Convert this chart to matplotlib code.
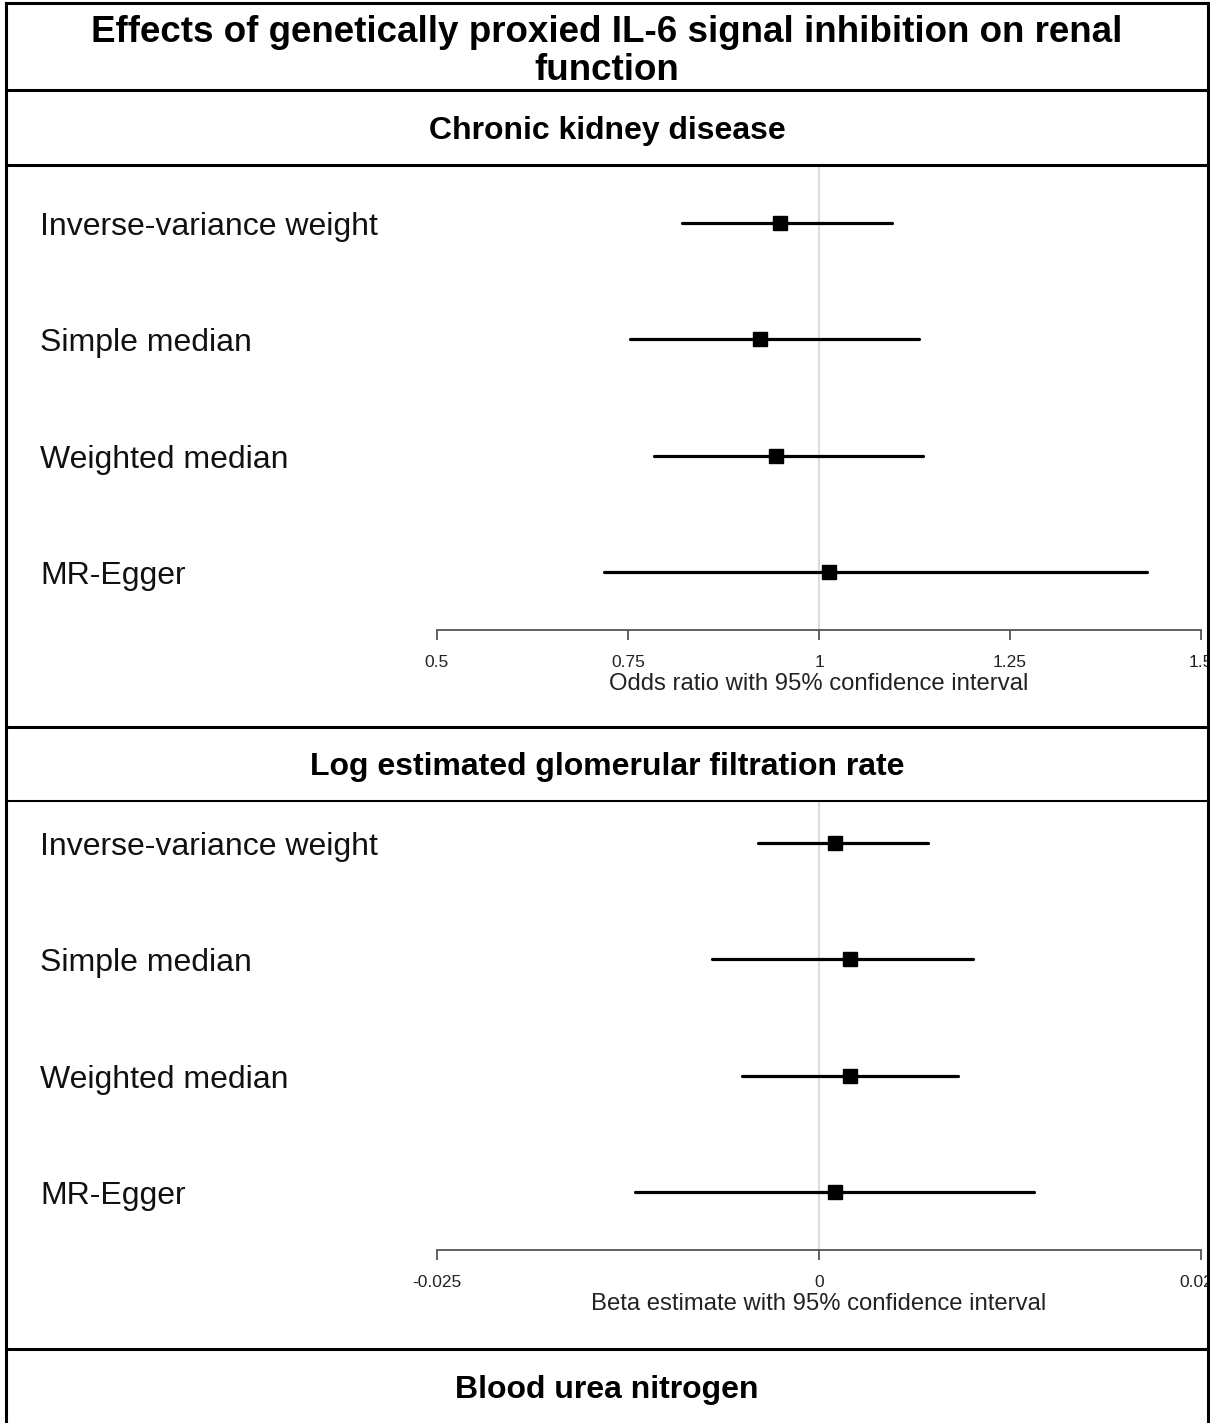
import matplotlib
matplotlib.use("Agg")
import matplotlib.pyplot as plt
from matplotlib.lines import Line2D
from matplotlib.transforms import blended_transform_factory, ScaledTranslation

plt.rcParams['font.family'] = ['Liberation Sans', 'DejaVu Sans']

W, H = 1210, 1423

methods = ["Inverse-variance weight", "Simple median", "Weighted median", "MR-Egger"]

# Chronic kidney disease (odds ratios)
ckd_est = [0.949, 0.923, 0.944, 1.013]
ckd_lo = [0.821, 0.753, 0.784, 0.719]
ckd_hi = [1.096, 1.131, 1.136, 1.429]
ckd_ticks = [0.5, 0.75, 1, 1.25, 1.5]
ckd_ticklabels = ["0.5", "0.75", "1", "1.25", "1.5"]

# Log eGFR (beta estimates)
egfr_est = [0.00105, 0.00203, 0.00203, 0.00105]
egfr_lo = [-0.00401, -0.00700, -0.00502, -0.01201]
egfr_hi = [0.00712, 0.01007, 0.00910, 0.01407]
egfr_ticks = [-0.025, 0, 0.025]
egfr_ticklabels = ["-0.025", "0", "0.025"]


def fx(x):
    return x / W


def fy(y):
    return 1 - y / H


fig = plt.figure(figsize=(W / 100, H / 100), dpi=100)


def hline(y, lw=2.2, x0=6, x1=1208):
    fig.add_artist(Line2D([fx(x0), fx(x1)], [fy(y), fy(y)], color='black',
                          lw=lw, transform=fig.transFigure))


def vline(x, y0, y1, lw=2.2):
    fig.add_artist(Line2D([fx(x), fx(x)], [fy(y0), fy(y1)], color='black',
                          lw=lw, transform=fig.transFigure))


# frame of the table
hline(3)
hline(90)
hline(165)
hline(727)
hline(801, lw=1.5)
hline(1349)
vline(6, 3, 1423)
vline(1208, 3, 1423)

fig.text(fx(607), fy(33), "Effects of genetically proxied IL-6 signal inhibition on renal",
         ha='center', va='center', fontsize=26.5, fontweight='bold')
fig.text(fx(607), fy(71), "function", ha='center', va='center', fontsize=26.5, fontweight='bold')
fig.text(fx(607), fy(131), "Chronic kidney disease", ha='center', va='center',
         fontsize=23, fontweight='bold')
fig.text(fx(607), fy(767), "Log estimated glomerular filtration rate", ha='center',
         va='center', fontsize=23, fontweight='bold')
fig.text(fx(607), fy(1390), "Blood urea nitrogen", ha='center', va='center',
         fontsize=23, fontweight='bold')


def forest(top, bottom, est, lo, hi, xlim, ticks, ticklabels, xlabel):
    ax = fig.add_axes([fx(437), fy(bottom), fx(1201) - fx(437), (bottom - top) / H])
    n = len(est)
    ypos = list(range(n, 0, -1))
    # rows are 116.3 px apart, last row 58 px above the axis line
    span = (bottom - top) / 116.3
    ax.set_ylim(0.5, 0.5 + span)
    ax.set_xlim(*xlim)
    ax.axvline(0.5 * (xlim[0] + xlim[1]), color='#dcdcdc', lw=1.5, zorder=0)
    for i in range(n):
        ax.plot([lo[i], hi[i]], [ypos[i], ypos[i]], color='black', lw=2.3,
                solid_capstyle='round', zorder=2)
    ax.plot(est, ypos, 's', color='black', markersize=9.5, zorder=3)
    for s in ['top', 'left', 'right']:
        ax.spines[s].set_visible(False)
    ax.spines['bottom'].set_color('#555555')
    ax.spines['bottom'].set_linewidth(1.3)
    ax.set_yticks([])
    ax.set_xticks(ticks)
    ax.set_xticklabels(ticklabels)
    ax.tick_params(axis='x', direction='out', length=7.5, width=1.3, color='#555555',
                   labelsize=12.5, pad=10.5, labelcolor='#222222')
    ax.set_xlabel(xlabel, fontsize=17.2, labelpad=2, color='#222222')
    ax.patch.set_alpha(0)
    trans = blended_transform_factory(fig.transFigure, ax.transData)
    trans = trans + ScaledTranslation(0, -3 / 72, fig.dpi_scale_trans)
    for i, m in enumerate(methods):
        ax.text(fx(40), ypos[i], m, transform=trans, ha='left', va='center',
                fontsize=23, color='#111111', clip_on=False)
    return ax


forest(166, 630, ckd_est, ckd_lo, ckd_hi, (0.5, 1.5), ckd_ticks, ckd_ticklabels,
       "Odds ratio with 95% confidence interval")
forest(802, 1250, egfr_est, egfr_lo, egfr_hi, (-0.025, 0.025), egfr_ticks, egfr_ticklabels,
       "Beta estimate with 95% confidence interval")

fig.savefig("out.png", dpi=100)
